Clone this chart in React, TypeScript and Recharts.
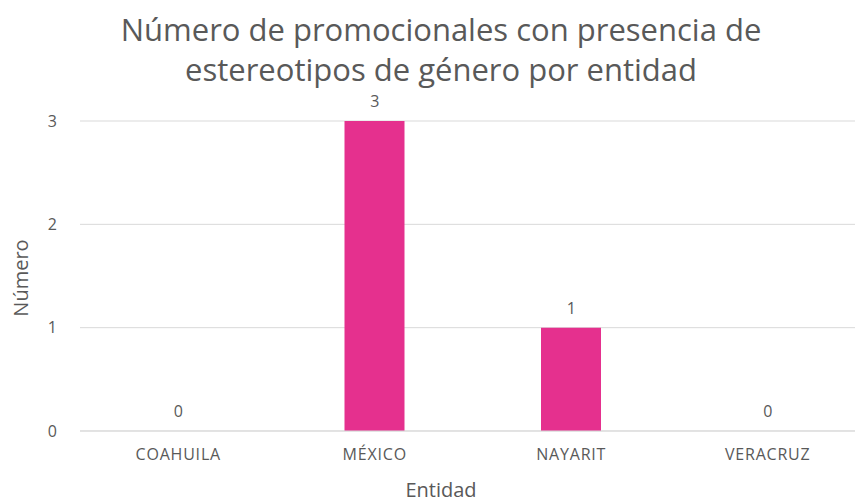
import React from 'react';
import { ComposedChart, Bar, Line, XAxis, YAxis, CartesianGrid, LabelList } from 'recharts';

const entidades = ['COAHUILA', 'MÉXICO', 'NAYARIT', 'VERACRUZ'];
const promocionales = [0, 3, 1, 0];
const yTicks = [0, 1, 2, 3];

const data = entidades.map((name, i) => ({ name, value: promocionales[i] }));

const FONT = "'Open Sans', 'Noto Sans', sans-serif";
const TEXT = '#595959';

const App: React.FC = () => {
  return (
    <div
      style={{
        position: 'fixed',
        left: 0,
        top: 0,
        width: 855,
        height: 504,
        overflow: 'hidden',
        background: '#fff',
        fontFamily: FONT,
      }}
    >
      <ComposedChart
        width={870}
        height={504}
        data={data}
        margin={{ top: 121, right: 4, bottom: 43, left: 0 }}
        barCategoryGap={0}
      >
        <CartesianGrid vertical={false} stroke="#d9d9d9" />
        <XAxis
          dataKey="name"
          axisLine={{ stroke: '#d9d9d9' }}
          tickLine={false}
          tick={{ fill: TEXT, fontSize: 16, fontFamily: FONT, letterSpacing: 0.8 }}
          tickMargin={12}
        />
        <YAxis
          width={80}
          domain={[0, 3]}
          ticks={yTicks}
          axisLine={false}
          tickLine={false}
          tick={{ fill: TEXT, fontSize: 16, fontFamily: FONT }}
          tickMargin={17}
        />
        <Bar dataKey="value" fill="#E5308E" barSize={60} isAnimationActive={false} />
        <Line
          dataKey="value"
          stroke="none"
          dot={false}
          activeDot={false}
          isAnimationActive={false}
        >
          <LabelList
            dataKey="value"
            position="top"
            offset={14}
            fill={TEXT}
            fontSize={16}
            fontFamily={FONT}
          />
        </Line>
        <text
          x={441}
          y={41}
          textAnchor="middle"
          fill={TEXT}
          fontSize={31}
          fontFamily={FONT}
        >
          Número de promocionales con presencia de
        </text>
        <text
          x={441}
          y={81}
          textAnchor="middle"
          fill={TEXT}
          fontSize={31}
          fontFamily={FONT}
        >
          estereotipos de género por entidad
        </text>
        <text
          x={441}
          y={497}
          textAnchor="middle"
          fill={TEXT}
          fontSize={20}
          fontFamily={FONT}
        >
          Entidad
        </text>
        <text
          x={28}
          y={278}
          textAnchor="middle"
          fill={TEXT}
          fontSize={20}
          fontFamily={FONT}
          transform="rotate(-90 28 278)"
        >
          Número
        </text>
      </ComposedChart>
    </div>
  );
};

export default App;
